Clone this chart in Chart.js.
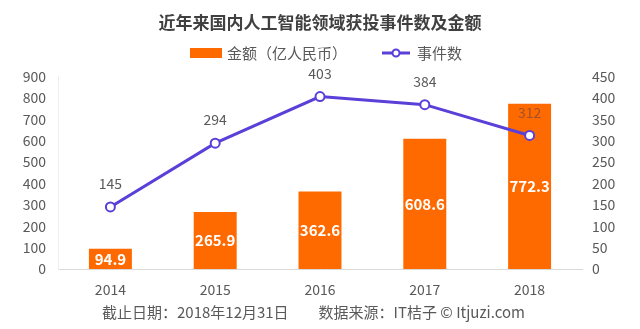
<!DOCTYPE html>
<html><head><meta charset="utf-8">
<script src="https://cdn.jsdelivr.net/npm/chart.js@4/dist/chart.umd.min.js"></script>
<style>html,body{margin:0;padding:0;background:#fff}#wrap{width:640px;height:329px}</style>
</head><body><div id="wrap"><canvas id="c" width="640" height="329"></canvas></div>
<script>
const categories = ['2014','2015','2016','2017','2018'];
const amounts = [94.9, 265.9, 362.6, 608.6, 772.3];
const events = [145, 294, 403, 384, 312];
const leftTicks = [0,100,200,300,400,500,600,700,800,900];
const rightTicks = [0,50,100,150,200,250,300,350,400,450];
const titleText = '近年来国内人工智能领域获投事件数及金额';
const amountLabel = '金额（亿人民币）';
const eventLabel = '事件数';
const footerText = '截止日期：2018年12月31日　　数据来源：IT桔子 © Itjuzi.com';

const ORANGE = '#ff6a00';
const PURPLE = '#5a3fd8';
const FONT = '"Noto Sans CJK SC", "Noto Sans", sans-serif';

const labelsPlugin = {
  id: 'valueLabels',
  afterDatasetsDraw(chart) {
    const ctx = chart.ctx;
    ctx.save();
    ctx.textAlign = 'center';
    ctx.textBaseline = 'middle';
    const barMeta = chart.getDatasetMeta(0);
    ctx.font = 'bold 15px ' + FONT;
    ctx.fillStyle = '#ffffff';
    barMeta.data.forEach((el, i) => {
      const p = el.getProps(['x','y','base'], true);
      ctx.fillText(String(amounts[i]), p.x, (p.y + p.base) / 2);
    });
    const lineMeta = chart.getDatasetMeta(1);
    ctx.font = '14px ' + FONT;
    lineMeta.data.forEach((el, i) => {
      ctx.fillStyle = i === 4 ? '#a0522d' : '#595959';
      ctx.fillText(String(events[i]), el.x, el.y - 23);
    });
    ctx.restore();
  },
  afterDraw(chart) {
    const ctx = chart.ctx;
    ctx.save();
    const y = 53;
    ctx.font = '15px ' + FONT;
    ctx.textBaseline = 'middle';
    ctx.textAlign = 'left';
    ctx.fillStyle = ORANGE;
    ctx.fillRect(190, y - 5, 32, 10);
    ctx.fillStyle = '#595959';
    ctx.fillText(amountLabel, 227, y);
    ctx.strokeStyle = PURPLE;
    ctx.lineWidth = 3;
    ctx.beginPath(); ctx.moveTo(382, y); ctx.lineTo(410, y); ctx.stroke();
    ctx.beginPath(); ctx.arc(396, y, 3.5, 0, Math.PI*2);
    ctx.fillStyle = '#fff'; ctx.fill();
    ctx.lineWidth = 2; ctx.stroke();
    ctx.fillStyle = '#595959';
    ctx.fillText(eventLabel, 417, y);
    // footer
    ctx.font = '15px ' + FONT;
    ctx.textAlign = 'left';
    ctx.fillStyle = '#595959';
    ctx.fillText(footerText, 102, 312);
    ctx.restore();
  }
};

new Chart(document.getElementById('c'), {
  data: {
    labels: categories,
    datasets: [
      { type: 'bar', label: amountLabel, data: amounts, backgroundColor: ORANGE,
        yAxisID: 'y', barPercentage: 0.82, categoryPercentage: 0.5, order: 2 },
      { type: 'line', label: eventLabel, data: events, borderColor: PURPLE, borderWidth: 3,
        pointRadius: 4.5, pointBorderWidth: 2, pointBackgroundColor: '#fff', pointBorderColor: PURPLE,
        yAxisID: 'y1', tension: 0, order: 1 }
    ]
  },
  options: {
    responsive: false,
    animation: false,
    layout: { padding: { left: 0, right: 0, top: 0, bottom: 0 } },
    plugins: {
      legend: { display: false },
      tooltip: { enabled: false },
      title: { display: true, text: titleText, color: '#404040',
        font: { family: FONT, size: 17, weight: 'bold' }, padding: { top: 12, bottom: 44 } }
    },
    scales: {
      x: {
        afterFit: s => { s.height = 60; },
        grid: { display: false, drawTicks: false },
        border: { display: true, color: '#d9d9d9', width: 1 },
        ticks: { color: '#595959', font: { family: FONT, size: 14 }, padding: 12 }
      },
      y: {
        position: 'left', min: 0, max: 900,
        afterBuildTicks: s => { s.ticks = leftTicks.map(v => ({ value: v })); },
        afterFit: s => { s.width = 58; },
        grid: { display: false, drawTicks: false },
        border: { display: true, color: '#eeeeee' },
        ticks: { color: '#595959', font: { family: FONT, size: 14 }, padding: 12 }
      },
      y1: {
        position: 'right', min: 0, max: 450,
        afterBuildTicks: s => { s.ticks = rightTicks.map(v => ({ value: v })); },
        afterFit: s => { s.width = 58; },
        grid: { display: false, drawTicks: false },
        border: { display: false },
        ticks: { color: '#595959', font: { family: FONT, size: 14 }, padding: 10 }
      }
    }
  },
  plugins: [labelsPlugin]
});
</script></body></html>
